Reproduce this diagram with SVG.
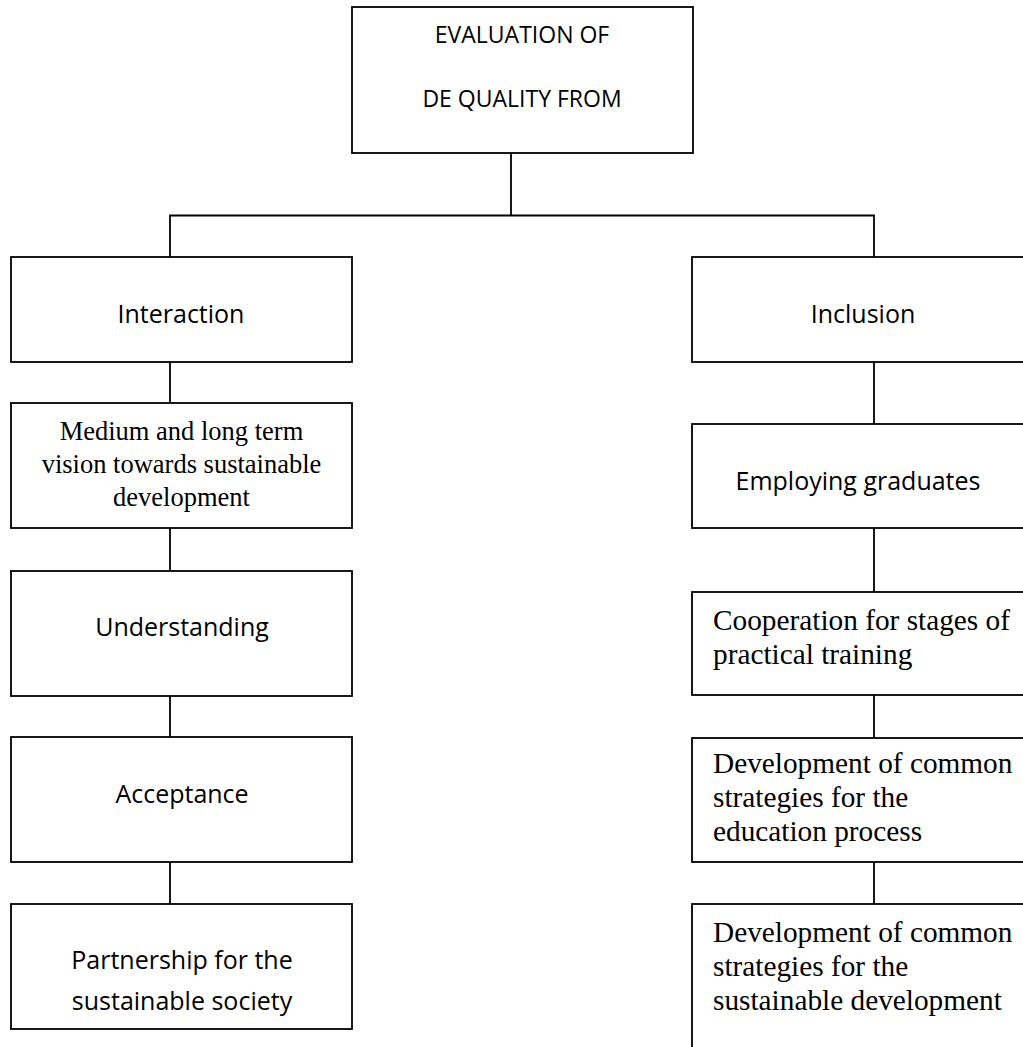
<svg xmlns="http://www.w3.org/2000/svg" width="1023" height="1047" viewBox="0 0 1023 1047">
<style>
.box{fill:#fff;stroke:#000;stroke-width:1.8}
.con{fill:none;stroke:#000;stroke-width:1.8}
.s{font-family:"Open Sans","Noto Sans",sans-serif;font-size:25px;fill:#000;text-anchor:middle}
.t{font-family:"Open Sans","Noto Sans",sans-serif;font-size:23px;fill:#000;text-anchor:middle}
.r{font-family:"Liberation Serif","Times New Roman",serif;font-size:26.5px;fill:#000;text-anchor:middle}
.rl{font-family:"Liberation Serif","Times New Roman",serif;font-size:29.3px;fill:#000}
</style>
<rect width="1023" height="1047" fill="#fff"/>
<g id="connectors">
<path class="con" d="M511,153 V215.5 M170,257 V215.5 H874 V257"/>
<path class="con" d="M170,362 V403 M170,528 V571 M170,696 V737 M170,862 V904"/>
<path class="con" d="M874,362 V424 M874,528 V592 M874,695 V738 M874,862 V904"/>
</g>
<g id="root">
<rect class="box" x="352" y="7" width="341" height="146"/>
<text class="t" x="522" y="43">EVALUATION OF</text>
<text class="t" x="522" y="107">DE QUALITY FROM</text>
</g>
<g id="interaction">
<rect class="box" x="11" y="257" width="341" height="105"/>
<text class="s" x="181" y="323">Interaction</text>
</g>
<g id="medium">
<rect class="box" x="11" y="403" width="341" height="125"/>
<text class="r" x="181.5" y="440">Medium and long term</text>
<text class="r" x="181.5" y="473">vision towards sustainable</text>
<text class="r" x="181.5" y="506">development</text>
</g>
<g id="understanding">
<rect class="box" x="11" y="571" width="341" height="125"/>
<text class="s" x="182" y="636">Understanding</text>
</g>
<g id="acceptance">
<rect class="box" x="11" y="737" width="341" height="125"/>
<text class="s" x="182" y="803">Acceptance</text>
</g>
<g id="partnership">
<rect class="box" x="11" y="904" width="341" height="125"/>
<text class="s" x="182" y="969">Partnership for the</text>
<text class="s" x="182" y="1010">sustainable society</text>
</g>
<g id="inclusion">
<rect class="box" x="692" y="257" width="341" height="105"/>
<text class="s" x="863" y="323">Inclusion</text>
</g>
<g id="employing">
<rect class="box" x="692" y="424" width="341" height="104"/>
<text class="s" x="858" y="490">Employing graduates</text>
</g>
<g id="cooperation">
<rect class="box" x="692" y="592" width="341" height="103"/>
<text class="rl" x="713" y="630">Cooperation for stages of</text>
<text class="rl" x="713" y="664">practical training</text>
</g>
<g id="dev-education">
<rect class="box" x="692" y="738" width="341" height="124"/>
<text class="rl" x="713" y="773">Development of common</text>
<text class="rl" x="713" y="807">strategies for the</text>
<text class="rl" x="713" y="841">education process</text>
</g>
<g id="dev-sustainable">
<rect class="box" x="692" y="904" width="341" height="170"/>
<text class="rl" x="713" y="942">Development of common</text>
<text class="rl" x="713" y="976">strategies for the</text>
<text class="rl" x="713" y="1010">sustainable development</text>
</g>
</svg>
